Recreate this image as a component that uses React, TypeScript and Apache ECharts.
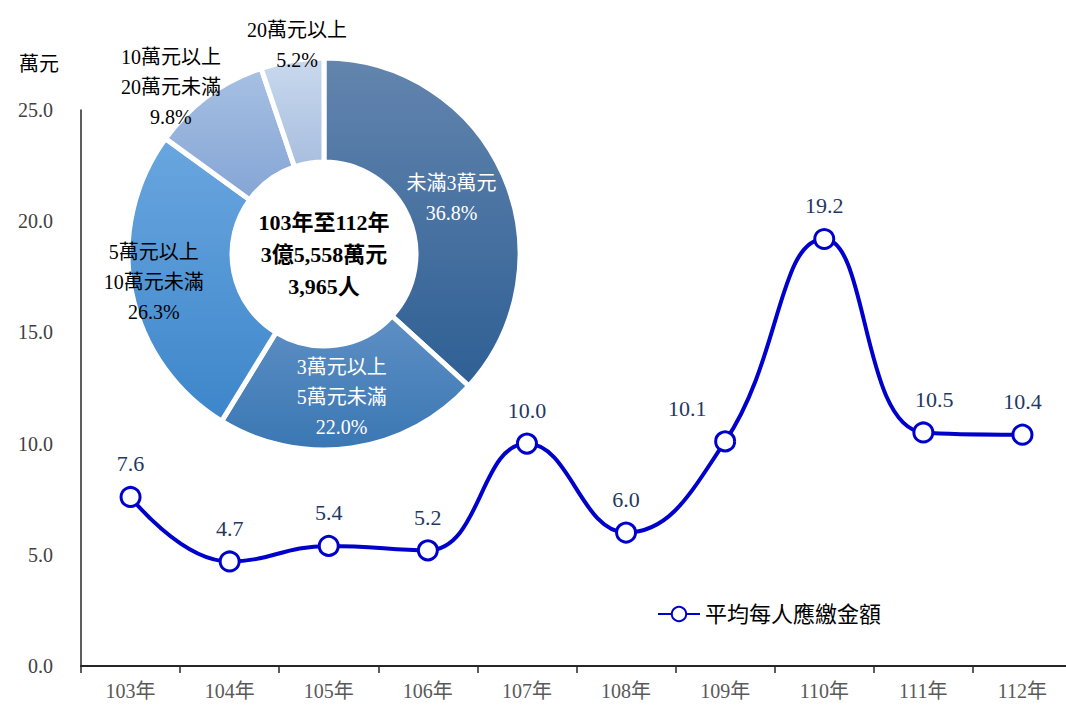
import React, { useEffect, useRef } from "react";
import * as echarts from "echarts";

const years = ["103年", "104年", "105年", "106年", "107年", "108年", "109年", "110年", "111年", "112年"];
const avgAmount = [7.6, 4.7, 5.4, 5.2, 10.0, 6.0, 10.1, 19.2, 10.5, 10.4];
const seriesName = "平均每人應繳金額";

const pieNames = ["未滿3萬元", "3萬元以上\n5萬元未滿", "5萬元以上\n10萬元未滿", "10萬元以上\n20萬元未滿", "20萬元以上"];
const pieShares = [36.8, 22.0, 26.3, 9.8, 5.2];
const centerLines = ["103年至112年", "3億5,558萬元", "3,965人"];

const FONT = "'Liberation Serif', 'Noto Sans CJK TC', serif";

const sliceColors = [
  ["#6385AE", "#2E5F94"],
  ["#5E8FC4", "#3A77B3"],
  ["#69A6DF", "#3D86CA"],
  ["#A7C0E3", "#85A5D5"],
  ["#C9D9EE", "#A8BEDF"],
];
const labelColors = ["#FFFFFF", "#FFFFFF", "#000000", "#000000", "#000000"];
const labelShift = [
  [-7, 3],
  [-3, -3],
  [-26, -1],
  [-66, -49],
  [-3, -64],
];
const pointLabelShift = [[0, 0], [0, 0], [0, 0], [0, 0], [0, 0], [0, 0], [-38, 0], [0, 0], [11, 0], [0, 0]];

export default function App() {
  const ref = useRef<HTMLDivElement>(null);
  useEffect(() => {
    document.body.style.margin = "0";
    const chart = echarts.init(ref.current!, null, { renderer: "svg" });
    const option: any = {
      animation: false,
      textStyle: { fontFamily: FONT },
      grid: { left: 81, top: 110, width: 991, height: 556, outerBoundsMode: "none", containLabel: false },
      legend: {
        left: 652,
        top: 598,
        itemWidth: 42,
        itemHeight: 18,
        itemGap: 8,
        textStyle: { fontFamily: FONT, fontSize: 22, color: "#000" },
        data: [seriesName],
      },
      xAxis: {
        type: "category",
        data: years,
        boundaryGap: true,
        axisLine: { lineStyle: { color: "#262626", width: 2 } },
        axisTick: { show: true, length: 7, lineStyle: { color: "#262626", width: 1.5 } },
        axisLabel: { color: "#595959", fontSize: 20, fontFamily: FONT, margin: 15 },
      },
      yAxis: {
        type: "value",
        min: 0,
        max: 25,
        interval: 5,
        name: "萬元",
        nameLocation: "end",
        nameGap: 36,
        nameTextStyle: { color: "#000", fontSize: 20, fontFamily: FONT, align: "right", padding: [0, 22, 0, 0] },
        axisLine: { show: true, lineStyle: { color: "#262626", width: 1.5 } },
        axisTick: { show: false },
        splitLine: { show: false },
        axisLabel: {
          color: "#404040",
          fontSize: 20,
          fontFamily: FONT,
          margin: 28,
          formatter: (v: number) => v.toFixed(1),
        },
      },
      graphic: [
        {
          type: "text",
          x: 324,
          y: 254,
          z: 100,
          style: {
            text: centerLines.join("\n"),
            x: 0,
            y: 0,
            align: "center",
            verticalAlign: "middle",
            font: `bold 22px ${FONT}`,
            lineHeight: 32,
            fill: "#000",
          },
        },
      ],
      series: [
        {
          name: seriesName,
          type: "line",
          smooth: 0.45,
          data: avgAmount.map((v, i) => ({
            value: v,
            label: { offset: pointLabelShift[i] },
          })),
          symbol: "circle",
          symbolSize: 19,
          lineStyle: { color: "#0000CC", width: 4 },
          itemStyle: { color: "#FFFFFF", borderColor: "#0000CC", borderWidth: 3 },
          label: {
            show: true,
            position: "top",
            distance: 11,
            color: "#1F3864",
            fontSize: 22,
            fontFamily: FONT,
            formatter: (p: any) => Number(p.value).toFixed(1),
          },
          z: 3,
        },
        {
          type: "pie",
          center: [324, 254],
          radius: [92, 196],
          startAngle: 90,
          clockwise: true,
          z: 5,
          data: pieShares.map((v, i) => ({
            value: v,
            name: pieNames[i],
            itemStyle: {
              color: new echarts.graphic.LinearGradient(0, 0, 0, 1, [
                { offset: 0, color: sliceColors[i][0] },
                { offset: 1, color: sliceColors[i][1] },
              ]),
            },
            label: { color: labelColors[i] },
          })),
          itemStyle: { borderColor: "#FFFFFF", borderWidth: 5 },
          label: {
            show: true,
            position: "inside",
            fontSize: 20,
            fontFamily: FONT,
            lineHeight: 30,
            align: "center",
            formatter: (p: any) => `${p.name}\n${Number(p.value).toFixed(1)}%`,
          },
          labelLine: { show: false },
          labelLayout: (p: any) => ({ dx: labelShift[p.dataIndex][0], dy: labelShift[p.dataIndex][1] }),
          emphasis: { disabled: true },
        },
      ],
    };
    chart.setOption(option);
    return () => chart.dispose();
  }, []);
  return <div ref={ref} style={{ width: 1066, height: 707 }} />;
}
